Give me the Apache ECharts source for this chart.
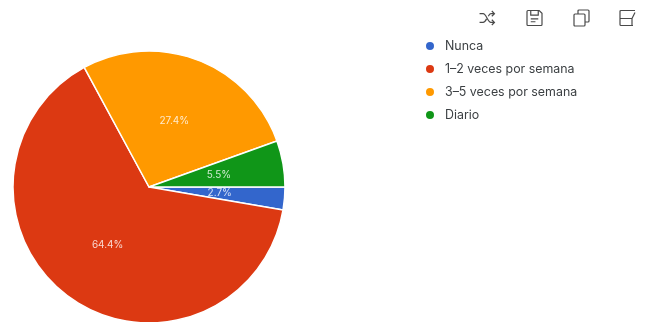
<!DOCTYPE html>
<html>
<head>
<meta charset="utf-8">
<style>html,body{margin:0;padding:0;background:#fff}#chart{width:649px;height:322px}</style>
<script src="https://cdn.jsdelivr.net/npm/echarts@6/dist/echarts.min.js"></script>
</head>
<body>
<div id="chart"></div>
<script>
// Frecuencia semanal: porcentaje de respuestas por categoría
const categories = ['Nunca', '1–2 veces por semana', '3–5 veces por semana', 'Diario'];
const percentages = [2.7, 64.4, 27.4, 5.5];
const sliceColors = ['#3366cc', '#dc3912', '#ff9900', '#109618'];

// Iconos de la barra de herramientas superior
const toolIcons = [
  { x: 478, y: 11, w: 18, h: 14, path: 'M1 4 H5 C9 4 10 14 14 14 H18 M15 11 L18 14 L15 17 M1 14 H5 C7 14 8 12 9 10 M11 7 C12 5 13 4 14 4 H18 M15 1 L18 4 L15 7' },
  { x: 527, y: 10, w: 15, h: 16, path: 'M2 1 H14 L17 4 V16 Q17 17 16 17 H2 Q1 17 1 16 V2 Q1 1 2 1 Z M5 1 V6 H13 V1 M5 10 H13 M5 13 H10' },
  { x: 574, y: 10, w: 15, h: 16, path: 'M2 5 H11 Q12 5 12 6 V16 Q12 17 11 17 H2 Q1 17 1 16 V6 Q1 5 2 5 Z M5 5 V2 Q5 1 6 1 H15 Q16 1 16 2 V12 Q16 13 15 13 H12' },
  { x: 620, y: 10, w: 15, h: 16, path: 'M16 2 H2 Q1 2 1 3 V16 Q1 17 2 17 H14 M1 10 H13 V17 M13 10 L16 4' }
];

const chart = echarts.init(document.getElementById('chart'), null, { renderer: 'canvas' });
chart.setOption({
  animation: false,
  backgroundColor: '#ffffff',
  color: sliceColors,
  legend: {
    data: categories,
    orient: 'vertical',
    left: 419,
    top: 33,
    icon: 'circle',
    itemWidth: 10,
    itemHeight: 10,
    itemGap: 7,
    selectedMode: false,
    textStyle: {
      fontFamily: 'Inter, Roboto, sans-serif',
      fontSize: 12.4,
      color: '#3c4043',
      lineHeight: 16,
      padding: [0, 0, 0, 5]
    }
  },
  series: [{
    type: 'pie',
    center: [149, 187],
    radius: [0, 136],
    startAngle: 0,
    clockwise: true,
    silent: true,
    data: categories.map((name, i) => ({ name, value: percentages[i] })),
    itemStyle: { borderColor: '#ffffff', borderWidth: 1.5 },
    label: {
      show: true,
      position: 'inside',
      formatter: p => p.value.toFixed(1) + '%',
      color: 'rgba(255,255,255,0.8)',
      fontFamily: 'Inter, Roboto, sans-serif',
      fontSize: 10
    },
    labelLine: { show: false }
  }, {
    type: 'custom',
    coordinateSystem: 'none',
    silent: true,
    data: toolIcons.map((_, i) => i),
    renderItem(params) {
      const icon = toolIcons[params.dataIndex];
      return {
        type: 'path',
        x: icon.x,
        y: icon.y,
        shape: { pathData: icon.path, x: 0, y: 0, width: icon.w, height: icon.h },
        style: { fill: 'none', stroke: '#4a4a4a', lineWidth: 1.2 }
      };
    }
  }]
});
</script>
</body>
</html>
